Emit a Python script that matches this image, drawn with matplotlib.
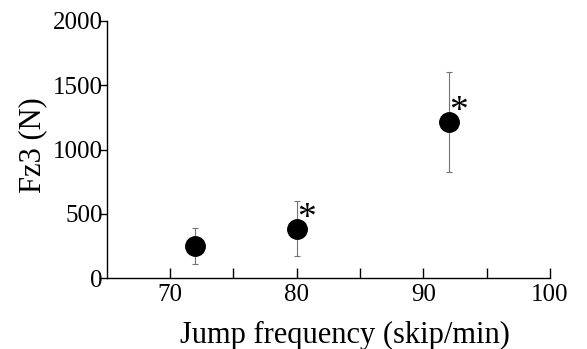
import numpy as np
import matplotlib.pyplot as plt
import matplotlib

matplotlib.rcParams['font.family'] = ['Liberation Serif', 'DejaVu Serif']

# jump frequency (skip/min) and Fz3 (N), mean and SD
freq = [72, 80, 92]
fz3 = [250, 385, 1215]
fz3_sd = [140, 215, 390]
signif = [False, True, True]

fig = plt.figure(figsize=(5.87, 3.49), dpi=100)
ax = fig.add_axes([0.182, 0.203, 0.755, 0.737])

ax.errorbar(freq, fz3, yerr=fz3_sd, fmt='none', ecolor='0.45',
            elinewidth=0.8, capsize=2.5, capthick=0.8)
ax.plot(freq, fz3, 'o', color='black', markersize=14)

for x, y, s in zip(freq, fz3, signif):
    if s:
        ax.annotate('*', xy=(x, y), xytext=(0.5, 7), textcoords='offset points',
                    fontsize=27, ha='left', va='center')

ax.set_xlim(65, 100)
ax.set_ylim(0, 2000)
ax.set_xticks([70, 75, 80, 85, 90, 95, 100])
ax.set_xticklabels(['70', '', '80', '', '90', '', '100'])
ax.set_yticks([0, 500, 1000, 1500, 2000])

ax.spines['top'].set_visible(False)
ax.spines['right'].set_visible(False)
ax.spines['left'].set_linewidth(1.0)
ax.spines['bottom'].set_linewidth(1.0)

ax.tick_params(axis='x', direction='in', length=7, width=1, labelsize=18, pad=4)
ax.tick_params(axis='y', direction='out', length=6, width=1, labelsize=18, pad=-3)

ax.set_xlabel('Jump frequency (skip/min)', fontsize=22)
ax.set_ylabel('Fz3 (N)', fontsize=22)
ax.xaxis.set_label_coords(0.537, -0.165)
ax.yaxis.set_label_coords(-0.135, 0.517)

fig.savefig('out.png', dpi=100)
